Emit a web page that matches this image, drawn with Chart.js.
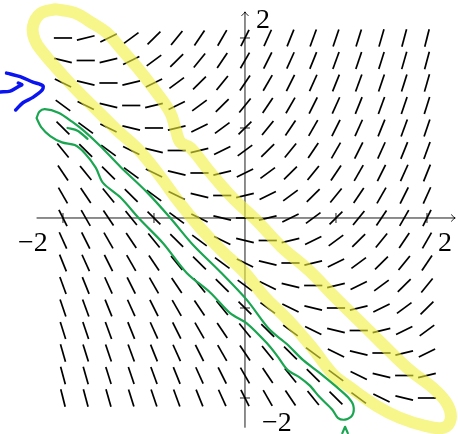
<!DOCTYPE html>
<html>
<head>
<meta charset="utf-8">
<script src="https://cdn.jsdelivr.net/npm/chart.js@4.4.1/dist/chart.umd.min.js"></script>
<style>
  html, body { margin: 0; padding: 0; background: #fff; }
  #wrap { width: 458px; height: 434px; position: relative; }
</style>
</head>
<body>
<div id="wrap"><canvas id="field"></canvas></div>
<script>
// slope field of dy/dx = x + y, sampled on a 0.25 grid
const gridX = [-2, -1.75, -1.5, -1.25, -1, -0.75, -0.5, -0.25, 0, 0.25, 0.5, 0.75, 1, 1.25, 1.5, 1.75, 2];
const gridY = [-2, -1.75, -1.5, -1.25, -1, -0.75, -0.5, -0.25, 0, 0.25, 0.5, 0.75, 1, 1.25, 1.5, 1.75, 2];
const slope = (x, y) => x + y;

const tickValues = [-2, -1, 1, 2];
const tickLabels = [
  {text: '\u22122', axis: 'x', value: -2},
  {text: '2', axis: 'x', value: 2},
  {text: '2', axis: 'y', value: 2},
  {text: '\u22122', axis: 'y', value: -2}
];

const yellowLoop = [
  [-2.09, 2.32], [-2.25, 2.27], [-2.33, 2.13], [-2.31, 1.98], [-2.22, 1.84], [-2.05, 1.64],
  [-1.85, 1.42], [-1.63, 1.20], [-1.41, 0.98], [-1.17, 0.76], [-0.93, 0.46], [-0.72, 0.17],
  [-0.50, -0.10], [-0.26, -0.36], [0.00, -0.61], [0.22, -0.88], [0.47, -1.13], [0.73, -1.43],
  [0.97, -1.74], [1.15, -1.88], [1.45, -2.09], [1.70, -2.22], [1.98, -2.31], [2.18, -2.33],
  [2.26, -2.24], [2.23, -2.08], [2.09, -1.91], [1.81, -1.69], [1.50, -1.39], [1.28, -1.17],
  [0.99, -0.88], [0.70, -0.58], [0.40, -0.32], [0.12, -0.02], [-0.14, 0.23], [-0.40, 0.53],
  [-0.60, 0.78], [-0.71, 0.84], [-0.76, 0.98], [-0.82, 1.17], [-0.99, 1.42], [-1.19, 1.68],
  [-1.37, 1.89], [-1.52, 2.06], [-1.70, 2.18], [-1.87, 2.28], [-2.09, 2.32]
];
const greenLoop = [
  [-2.29, 1.11], [-2.26, 1.18], [-2.20, 1.21], [-2.05, 1.17], [-1.90, 1.07], [-1.76, 0.96],
  [-1.59, 0.80], [-1.37, 0.57], [-1.08, 0.29], [-0.82, 0.00], [-0.57, -0.30], [-0.27, -0.60],
  [0.02, -0.91], [0.27, -1.24], [0.46, -1.40], [0.64, -1.58], [0.82, -1.72], [1.01, -1.88],
  [1.13, -1.99], [1.19, -2.08], [1.18, -2.19], [1.10, -2.24], [1.02, -2.22], [0.96, -2.13],
  [0.82, -1.99], [0.71, -1.86], [0.60, -1.77], [0.47, -1.69], [0.36, -1.54], [0.24, -1.39],
  [0.02, -1.17], [-0.16, -1.06], [-0.38, -0.83], [-0.64, -0.61], [-0.90, -0.28], [-1.15, -0.02],
  [-1.37, 0.23], [-1.56, 0.39], [-1.64, 0.56], [-1.76, 0.72], [-1.87, 0.81], [-2.01, 0.84],
  [-2.14, 0.91], [-2.24, 1.01], [-2.29, 1.11]
];
const greenTail = [[-1.95, 1.00], [-1.84, 0.97], [-1.73, 0.88]];
const greenCaret = [[1.07, -2.39], [1.10, -2.32], [1.13, -2.39]];
const blueChevron = [
  [-2.62, 1.61], [-2.58, 1.60], [-2.47, 1.57], [-2.33, 1.51], [-2.22, 1.47],
  [-2.23, 1.42], [-2.33, 1.34], [-2.44, 1.28], [-2.52, 1.20]
];
const blueHook = [[-2.69, 1.40], [-2.58, 1.41], [-2.49, 1.46], [-2.45, 1.48], [-2.49, 1.50]];

const HALF = 0.1; // half length of a slope mark

function toPoints(list) {
  return list.map(p => ({x: p[0], y: p[1]}));
}

const datasets = [];

for (const y of gridY) {
  for (const x of gridX) {
    const m = slope(x, y);
    const dx = HALF / Math.sqrt(1 + m * m);
    datasets.push({
      data: [{x: x - dx, y: y - m * dx}, {x: x + dx, y: y + m * dx}],
      borderColor: '#000',
      borderWidth: 1.7,
      order: 3
    });
  }
}

datasets.push({
  data: toPoints(yellowLoop),
  borderColor: 'rgba(240, 240, 60, 0.6)',
  borderWidth: 12,
  tension: 0.4,
  borderCapStyle: 'round',
  borderJoinStyle: 'round',
  order: 1
});

const pen = (list, color, width, tension) => ({
  data: toPoints(list),
  borderColor: color,
  borderWidth: width,
  tension: tension,
  borderCapStyle: 'round',
  borderJoinStyle: 'round',
  order: 0
});

datasets.push(pen(greenLoop, '#1aa550', 2.2, 0.3));
datasets.push(pen(greenTail, '#1aa550', 2.2, 0.3));
datasets.push(pen(greenCaret, '#1aa550', 2.2, 0));
datasets.push(pen(blueChevron, '#0a14f0', 3.5, 0.3));
datasets.push(pen(blueHook, '#0a14f0', 3.5, 0.3));

const axesPlugin = {
  id: 'axes',
  beforeDatasetsDraw(chart) {
    const {ctx, scales: {x, y}} = chart;
    const x0 = x.getPixelForValue(0);
    const y0 = y.getPixelForValue(0);
    ctx.save();
    ctx.strokeStyle = '#000';
    ctx.lineWidth = 0.9;

    const left = x.getPixelForValue(-2.29);
    const right = x.getPixelForValue(2.31);
    const top = y.getPixelForValue(2.29);
    const bottom = y.getPixelForValue(-2.33);

    ctx.beginPath();
    ctx.moveTo(left, y0);
    ctx.lineTo(right, y0);
    ctx.moveTo(x0, bottom);
    ctx.lineTo(x0, top);
    ctx.stroke();

    // arrow tips
    ctx.beginPath();
    ctx.moveTo(right - 4, y0 - 3.5);
    ctx.quadraticCurveTo(right - 1.5, y0 - 0.8, right, y0);
    ctx.quadraticCurveTo(right - 1.5, y0 + 0.8, right - 4, y0 + 3.5);
    ctx.moveTo(x0 - 3.5, top + 4);
    ctx.quadraticCurveTo(x0 - 0.8, top + 1.5, x0, top);
    ctx.quadraticCurveTo(x0 + 0.8, top + 1.5, x0 + 3.5, top + 4);
    ctx.stroke();

    ctx.beginPath();
    for (const v of tickValues) {
      const px = x.getPixelForValue(v);
      ctx.moveTo(px, y0 - 5);
      ctx.lineTo(px, y0 + 5);
      const py = y.getPixelForValue(v);
      ctx.moveTo(x0 - 5, py);
      ctx.lineTo(x0 + 5, py);
    }
    ctx.stroke();

    ctx.fillStyle = '#000';
    ctx.font = '28px "Liberation Serif", "DejaVu Serif", serif';
    ctx.textAlign = 'center';
    ctx.textBaseline = 'alphabetic';
    const shift = {
      'x-2': [-30, 24], 'x2': [18, 24], 'y2': [18, -19], 'y-2': [32, 24]
    };
    for (const lab of tickLabels) {
      const px = lab.axis === 'x' ? x.getPixelForValue(lab.value) : x0;
      const py = lab.axis === 'y' ? y.getPixelForValue(lab.value) : y0;
      const s = shift[lab.axis + lab.value];
      ctx.fillText(lab.text, px + s[0], py + s[1] + 9.5);
    }
    ctx.restore();
  }
};

new Chart(document.getElementById('field'), {
  type: 'scatter',
  data: {datasets},
  options: {
    responsive: true,
    maintainAspectRatio: false,
    animation: false,
    showLine: true,
    elements: {point: {radius: 0, hoverRadius: 0}},
    layout: {padding: 0},
    plugins: {legend: {display: false}, tooltip: {enabled: false}},
    scales: {
      x: {type: 'linear', min: -2.692, max: 2.341, display: false},
      y: {type: 'linear', min: -2.4, max: 2.422, display: false}
    }
  },
  plugins: [axesPlugin]
});
</script>
</body>
</html>
